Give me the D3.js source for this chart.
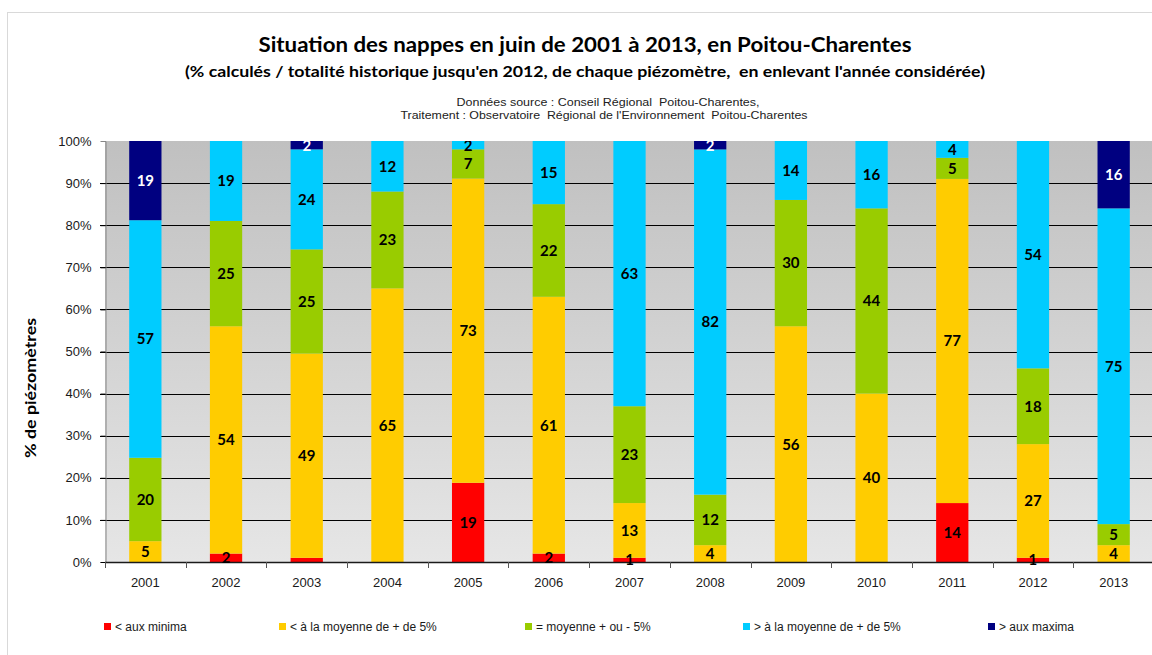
<!DOCTYPE html>
<html><head><meta charset="utf-8">
<script src="https://cdn.jsdelivr.net/npm/d3@7"></script>
<style>
html,body{margin:0;padding:0;background:#fff;}
svg{display:block;}
</style></head>
<body>
<svg id="chart" width="1152" height="655"></svg>
<script>
// ---------- DATA ----------
const years = ["2001","2002","2003","2004","2005","2006","2007","2008","2009","2010","2011","2012","2013"];
const seriesKeys = ["minima","belowAvg","average","aboveAvg","maxima"];
const seriesNames = ["< aux minima","< à la moyenne de + de 5%","= moyenne + ou - 5%","> à la moyenne de + de 5%","> aux maxima"];
const seriesColors = ["#FF0000","#FFCC00","#99CC00","#00CCFF","#000080"];
const minima   = [0, 2, 1, 0, 19, 2, 1, 0, 0, 0, 14, 1, 0];
const belowAvg = [5, 54, 49, 65, 73, 61, 13, 4, 56, 40, 77, 27, 4];
const average  = [20, 25, 25, 23, 7, 22, 23, 12, 30, 44, 5, 18, 5];
const aboveAvg = [57, 19, 24, 12, 2, 15, 63, 82, 14, 16, 4, 54, 75];
const maxima   = [19, 0, 2, 0, 0, 0, 0, 2, 0, 0, 0, 0, 16];
const hiddenLabels = ["2003:minima"];
const yTicks = [0,10,20,30,40,50,60,70,80,90,100];

const title = "Situation des nappes en juin de 2001 à 2013, en Poitou-Charentes";
const subtitle = "(% calculés / totalité historique jusqu'en 2012, de chaque piézomètre,  en enlevant l'année considérée)";
const source1 = "Données source : Conseil Régional  Poitou-Charentes,";
const source2 = "Traitement : Observatoire  Régional de l'Environnement  Poitou-Charentes";
const yTitle = "% de piézomètres";

// ---------- LAYOUT ----------
const svg = d3.select("#chart");
const plot = {left:105, top:141, bottom:562, right:1154};

const table = years.map((y,i)=>({year:y, minima:minima[i], belowAvg:belowAvg[i], average:average[i], aboveAvg:aboveAvg[i], maxima:maxima[i]}));
const stacked = d3.stack().keys(seriesKeys).offset(d3.stackOffsetExpand)(table);

const x = d3.scaleBand().domain(years).range([plot.left, plot.right]).paddingInner(0.6).paddingOuter(0.3);
const y = d3.scaleLinear().domain([0,1]).range([plot.bottom, plot.top]);

// outer frame
svg.append("rect").attr("x",7.5).attr("y",12.5).attr("width",1200).attr("height",700)
  .attr("fill","none").attr("stroke","#d9d9d9").attr("stroke-width",1);

// gradient bg
const defs = svg.append("defs");
const grad = defs.append("linearGradient").attr("id","bg").attr("x1",0).attr("y1",0).attr("x2",0).attr("y2",1);
grad.append("stop").attr("offset","0%").attr("stop-color","#c0c0c0");
grad.append("stop").attr("offset","100%").attr("stop-color","#e6e6e6");
defs.append("clipPath").attr("id","plotclip").append("rect")
  .attr("x",plot.left).attr("y",plot.top).attr("width",plot.right-plot.left).attr("height",plot.bottom-plot.top+12);

svg.append("rect").attr("x",plot.left).attr("y",plot.top).attr("width",plot.right-plot.left).attr("height",plot.bottom-plot.top)
  .attr("fill","url(#bg)");

// gridlines
svg.append("g").selectAll("line").data(yTicks.filter(t=>t>0 && t<100)).join("line")
  .attr("x1",plot.left-5).attr("x2",plot.right)
  .attr("y1",d=>Math.round(y(d/100))+0.5).attr("y2",d=>Math.round(y(d/100))+0.5)
  .attr("stroke","#000").attr("stroke-width",1);

// bars
const barG = svg.append("g");
stacked.forEach((s,si)=>{
  barG.append("g").attr("fill",seriesColors[si]).selectAll("rect").data(s).join("rect")
    .attr("x",d=>x(d.data.year)).attr("width",x.bandwidth())
    .attr("y",d=>y(d[1])).attr("height",d=>Math.max(0,y(d[0])-y(d[1])));
});

// y axis
const yAxis = d3.axisLeft(y).tickValues(yTicks.map(t=>t/100)).tickFormat(d=>Math.round(d*100)+"%").tickSize(5).tickPadding(9);
const yg = svg.append("g").attr("transform",`translate(${plot.left+0.5},0)`).call(yAxis);
yg.select(".domain").attr("stroke","#868686");
yg.selectAll(".tick line").attr("stroke","#000");
yg.selectAll(".tick").filter(d=>d>=1).select("line").remove();
yg.selectAll("text").attr("font-family","'Liberation Sans', Arial, sans-serif").attr("font-size","13px").attr("fill","#1a1a1a");

// x axis
const xg = svg.append("g");
xg.append("line").attr("x1",plot.left).attr("x2",plot.right).attr("y1",plot.bottom+0.5).attr("y2",plot.bottom+0.5)
  .attr("stroke","#1a1a1a").attr("stroke-width",1.5);
const step = x.step();
xg.selectAll("line.tk").data(d3.range(years.length+1)).join("line").attr("class","tk")
  .attr("x1",i=>Math.round(plot.left + i*step)+0.5).attr("x2",i=>Math.round(plot.left + i*step)+0.5)
  .attr("y1",plot.bottom).attr("y2",plot.bottom+6).attr("stroke","#555");
xg.selectAll("text").data(years).join("text")
  .attr("x",d=>x(d)+x.bandwidth()/2).attr("y",587).attr("text-anchor","middle")
  .attr("font-family","'Liberation Sans', Arial, sans-serif").attr("font-size","13px").attr("fill","#1a1a1a")
  .text(d=>d);

// labels
const labG = svg.append("g").attr("clip-path","url(#plotclip)");
stacked.forEach((s,si)=>{
  labG.append("g").selectAll("text").data(s.filter(d=>d.data[s.key]>0 && !hiddenLabels.includes(d.data.year+":"+s.key))).join("text")
    .attr("x",d=>x(d.data.year)+x.bandwidth()/2)
    .attr("y",d=>(y(d[0])+y(d[1]))/2)
    .attr("dy","0.36em").attr("text-anchor","middle")
    .attr("font-family","Lato, 'Open Sans', sans-serif").attr("font-weight","bold").attr("font-size","15px")
    .attr("fill", s.key==="maxima" ? "#fff" : "#000")
    .text(d=>d.data[s.key]);
});

// titles
svg.append("text").attr("x",585).attr("y",52).attr("text-anchor","middle")
  .attr("textLength",653).attr("lengthAdjust","spacingAndGlyphs")
  .attr("font-family","Lato, sans-serif").attr("font-weight","bold").attr("font-size","21px").attr("fill","#000").text(title);
svg.append("text").attr("x",585).attr("y",77).attr("text-anchor","middle")
  .attr("textLength",800).attr("lengthAdjust","spacingAndGlyphs").style("white-space","pre")
  .attr("font-family","Lato, sans-serif").attr("font-weight","bold").attr("font-size","15.5px").attr("fill","#000").text(subtitle);
svg.append("text").attr("x",608).attr("y",106).attr("text-anchor","middle").style("white-space","pre")
  .attr("textLength",303).attr("lengthAdjust","spacingAndGlyphs")
  .attr("font-family","'Liberation Sans', Arial, sans-serif").attr("font-size","11.5px").attr("fill","#222").text(source1);
svg.append("text").attr("x",604).attr("y",119).attr("text-anchor","middle").style("white-space","pre")
  .attr("textLength",407).attr("lengthAdjust","spacingAndGlyphs")
  .attr("font-family","'Liberation Sans', Arial, sans-serif").attr("font-size","11.5px").attr("fill","#222").text(source2);

// y title
svg.append("text").attr("transform","translate(36,388) rotate(-90)").attr("text-anchor","middle")
  .attr("textLength",140).attr("lengthAdjust","spacingAndGlyphs")
  .attr("font-family","Lato, sans-serif").attr("font-weight","bold").attr("font-size","16px").attr("fill","#000").text(yTitle);

// legend
const legendX = [104, 279, 525, 743, 988];
const lg = svg.append("g").selectAll("g").data(seriesNames).join("g")
  .attr("transform",(d,i)=>`translate(${legendX[i]},623)`);
lg.append("rect").attr("width",7).attr("height",7).attr("fill",(d,i)=>seriesColors[i]);
lg.append("text").attr("x",11).attr("y",7.5)
  .attr("font-family","'Liberation Sans', Arial, sans-serif").attr("font-size","12px").attr("fill","#1a1a1a").text(d=>d);
</script>
</body></html>
